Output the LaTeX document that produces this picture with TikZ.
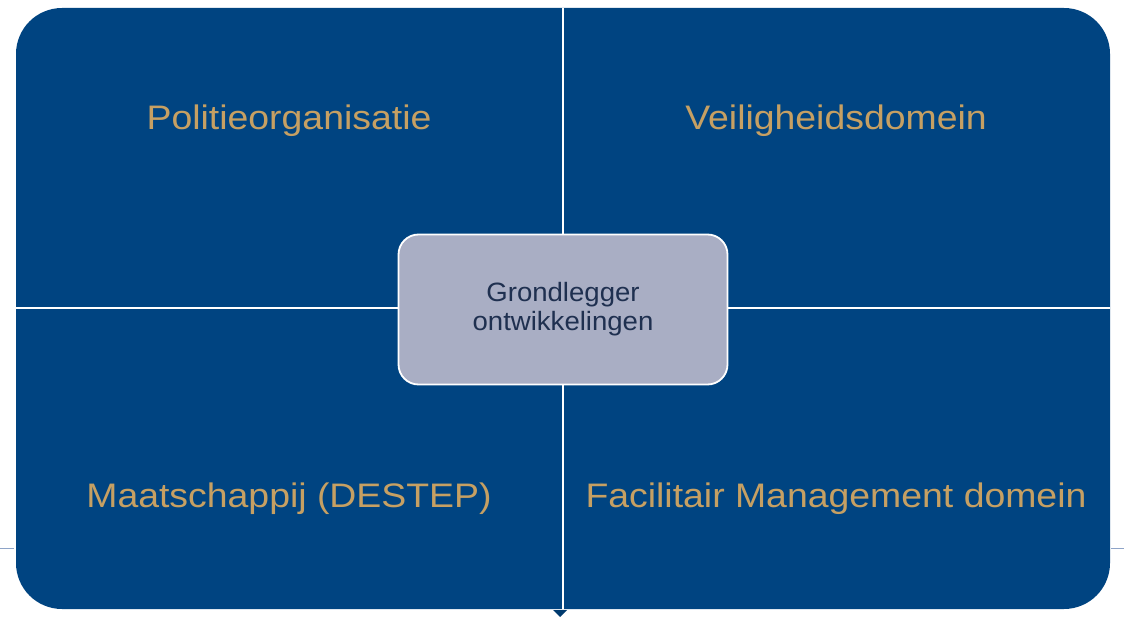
\documentclass[tikz,border=0pt]{standalone}
\usepackage{fontspec}
\setmainfont{Liberation Sans}
\newfontfamily\labelfont[FakeStretch=1.1]{Liberation Sans}
\newfontfamily\centerfont[FakeStretch=1.04]{Liberation Sans}
\definecolor{qblue}{HTML}{004481}
\definecolor{qgold}{HTML}{C6A063}
\definecolor{cfill}{HTML}{A9AEC4}
\definecolor{ctext}{HTML}{1F3050}
\definecolor{edgeline}{HTML}{8EA4C8}
\begin{document}
\begin{tikzpicture}[x=1pt,y=-1pt,
  quadlabel/.style={text=qgold,font=\labelfont\fontsize{34}{40}\selectfont,inner sep=0pt,anchor=base},
  sep/.style={draw=white,line width=2.5pt},
  centerbox/.style={draw=white,line width=1.8pt,fill=cfill,rounded corners=20pt,minimum width=329pt,minimum height=150pt,text=ctext,align=center,font=\centerfont\fontsize{26.5}{29}\selectfont}]
\useasboundingbox (0,0) rectangle (1124,617);
\fill[white] (0,0) rectangle (1124,617);
% side rules
\draw[edgeline,line width=1pt] (0,548) -- (14,548);
\draw[edgeline,line width=1pt] (1111,548) -- (1124,548);
% panel
\fill[qblue,rounded corners=46pt] (16,8) rectangle (1110,609);
\coordinate (ttop) at (563,8);
\coordinate (tbot) at (563,609);
\coordinate (lmid) at (16,308);
\coordinate (rmid) at (1110,308);
\draw[sep] (ttop) -- (tbot);
\draw[sep] (lmid) -- (rmid);
% bottom chevron
\fill[qblue!85!black] (553,610) -- (567,610) -- (560,617) -- cycle;
% labels
\node[quadlabel] (q1) at (289,130) {Politieorganisatie};
\node[quadlabel] (q2) at (836,130) {Veiligheidsdomein};
\node[quadlabel] (q3) at (289,507) {Maatschappij (DESTEP)};
\node[quadlabel] (q4) at (836,507) {Facilitair Management domein};
% center
\node[centerbox] (c) at (563,309.5) {Grondlegger\\ontwikkelingen};
\end{tikzpicture}
\end{document}
